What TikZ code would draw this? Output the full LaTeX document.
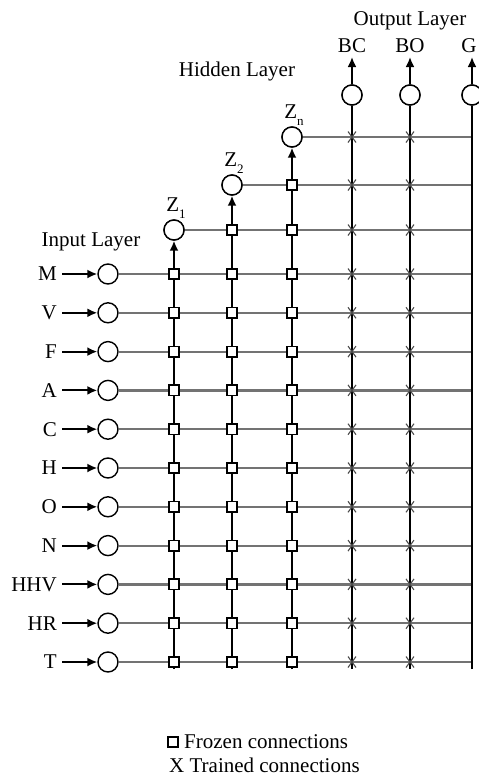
\documentclass[tikz,border=0pt]{standalone}
\usepackage{fontspec}
\setmainfont{Liberation Serif}
\usetikzlibrary{arrows.meta}
\newcommand{\zlab}[1]{Z\raisebox{-0.3em}{\fontsize{13}{13}\selectfont #1}}
\begin{document}
\begin{tikzpicture}[x=1pt,y=-1pt,font=\fontsize{21}{25}\selectfont,
  neuron/.style={circle,draw,line width=1.4pt,minimum size=20pt,inner sep=0pt,fill=white},
  hline/.style={line width=2.2pt,black!55},
  vline/.style={line width=1.9pt,black},
  frozen/.style={rectangle,draw,line width=1.6pt,fill=white,minimum size=10.5pt,inner sep=0pt},
  arr/.style={-{Latex[length=10pt,width=9pt]},line width=1.9pt},
  xm/.style={line width=1.1pt,black!70},
  lab/.style={inner sep=0pt}]
\useasboundingbox (0,0) rectangle (479,777);
% hidden and output nodes
\node[neuron] (z1) at (174,230) {};
\node[neuron] (z2) at (232,185) {};
\node[neuron] (zn) at (292,137) {};
\node[neuron] (bc) at (352,95) {};
\node[neuron] (bo) at (410,95) {};
\node[neuron] (g) at (472,95) {};
% input rows
\foreach \n [count=\i from 0] in {M,V,F,A,C,H,O,N,HHV,HR,T} {
  \pgfmathsetmacro\yy{274+38.8*\i}
  \node[neuron] (in\i) at (108,\yy) {};
  \node[lab,anchor=east] (l\i) at (57,\yy) {\n};
  \coordinate (a\i) at (62,\yy);
  \coordinate (re\i) at (472,\yy);
  \draw[hline] (in\i.east) -- (re\i);
  \draw[arr] (a\i) -- (in\i.west);
}
% hidden rows
\coordinate (rz1) at (472,230);
\coordinate (rz2) at (472,185);
\coordinate (rzn) at (472,137);
\draw[hline] (z1.east) -- (rz1);
\draw[hline] (z2.east) -- (rz2);
\draw[hline] (zn.east) -- (rzn);
% vertical columns
\coordinate (bz1) at (174,669);
\coordinate (bz2) at (232,669);
\coordinate (bzn) at (292,669);
\coordinate (bbc) at (352,669);
\coordinate (bbo) at (410,669);
\coordinate (bg) at (472,669);
\draw[vline,arr] (bz1) -- (z1.south);
\draw[vline,arr] (bz2) -- (z2.south);
\draw[vline,arr] (bzn) -- (zn.south);
\draw[vline] (bbc) -- (bc.south);
\draw[vline] (bbo) -- (bo.south);
\draw[vline] (bg) -- (g.south);
\coordinate (tbc) at (352,57);
\coordinate (tbo) at (410,57);
\coordinate (tg) at (472,57);
\draw[arr] (bc.north) -- (tbc);
\draw[arr] (bo.north) -- (tbo);
\draw[arr] (g.north) -- (tg);
% frozen squares and trained marks
\foreach \i in {0,...,10} {
  \pgfmathsetmacro\yy{274+38.8*\i}
  \foreach \xx in {174,232,292} {
    \node[frozen] at (\xx,\yy) {};
  }
  \foreach \xx in {352,410} {
    \draw[xm] (\xx-4,\yy-5.5) -- (\xx+4,\yy+5.5) (\xx-4,\yy+5.5) -- (\xx+4,\yy-5.5);
  }
}
\node[frozen] at (232,230) {};
\node[frozen] at (292,230) {};
\node[frozen] at (292,185) {};
\foreach \yy in {230,185,137} {
  \foreach \xx in {352,410} {
    \draw[xm] (\xx-4,\yy-5.5) -- (\xx+4,\yy+5.5) (\xx-4,\yy+5.5) -- (\xx+4,\yy-5.5);
  }
}
% redraw circles on top
\foreach \nd in {z1,z2,zn,bc,bo,g} { \node[neuron] at (\nd) {}; }
% labels
\node[lab] (lz1) at (176,208) {\zlab{1}};
\node[lab] (lz2) at (234,163) {\zlab{2}};
\node[lab] (lzn) at (294,115) {\zlab{n}};
\node[lab] (lbc) at (352,46) {BC};
\node[lab] (lbo) at (410,46) {BO};
\node[lab] (lg) at (469,46) {G};
\node[lab] (tout) at (410,21) {Output Layer};
\node[lab] (thid) at (237,71) {Hidden Layer};
\node[lab] (tin) at (91,242) {Input Layer};
% legend
\node[frozen,minimum size=10pt] (legsq) at (173,742) {};
\node[lab,anchor=west] (legf) at (184,742) {Frozen connections};
\node[lab,anchor=west] (legt) at (169,765) {X Trained connections};
\end{tikzpicture}
\end{document}
